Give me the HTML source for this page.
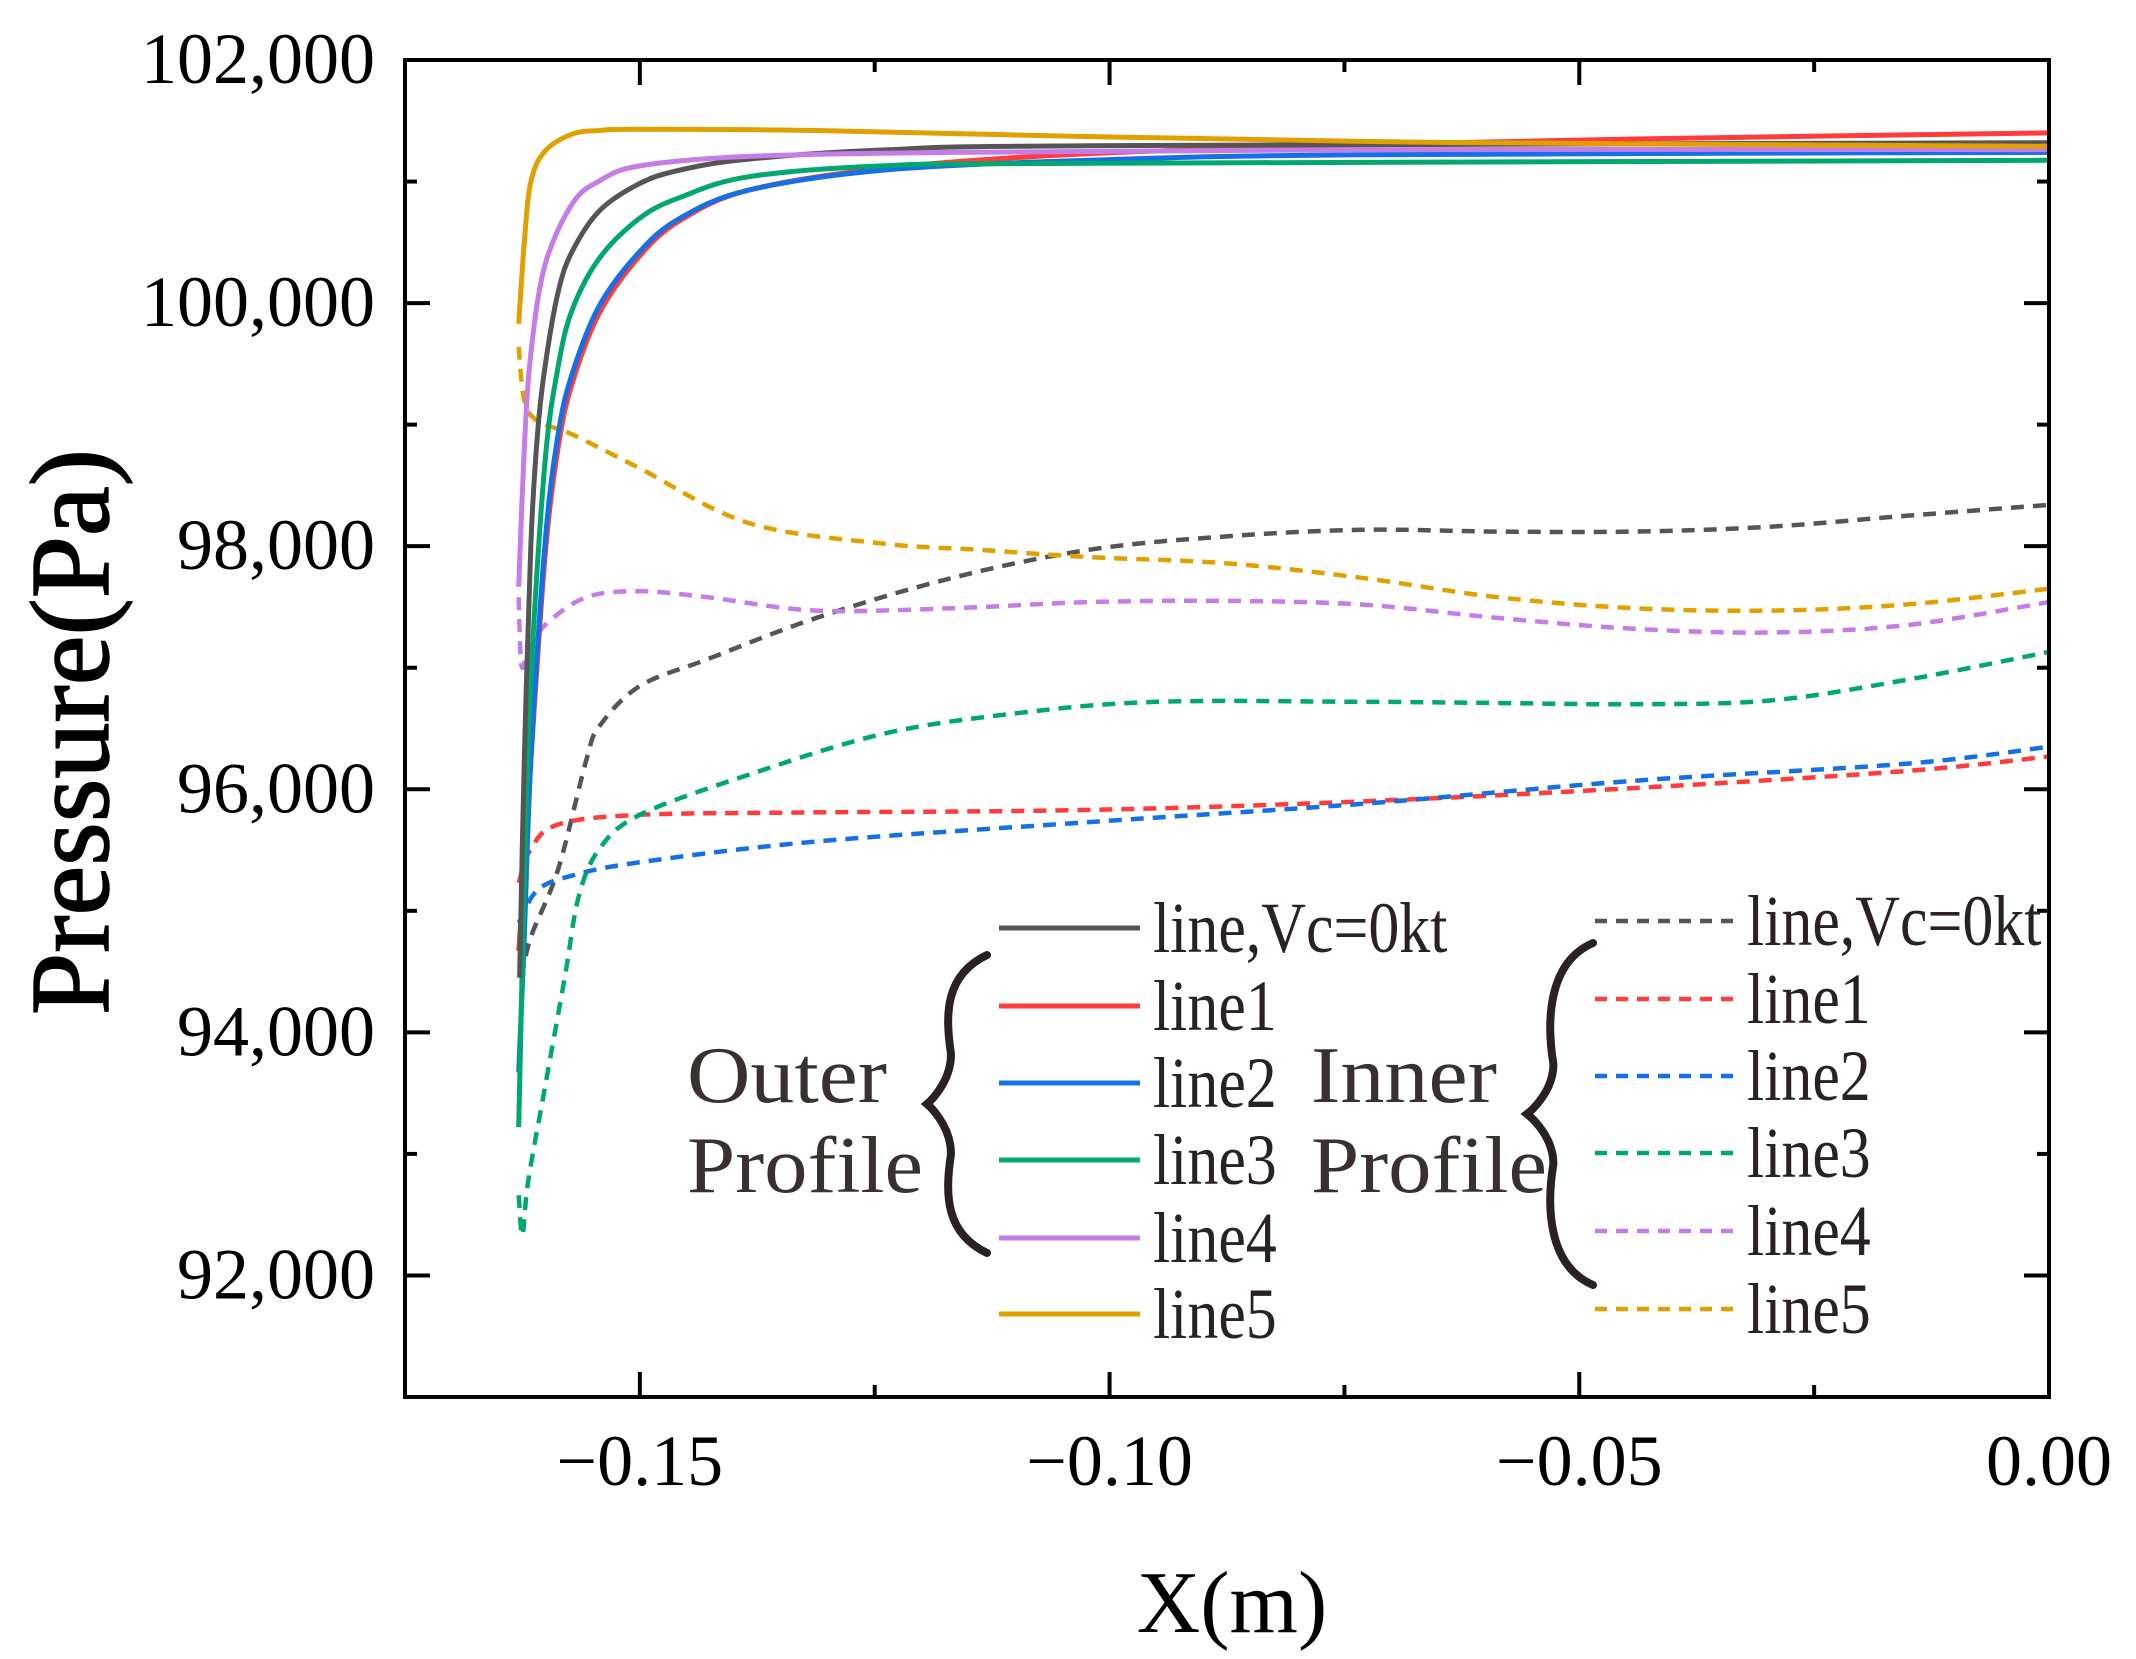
<!DOCTYPE html>
<html><head><meta charset="utf-8"><style>
html,body{margin:0;padding:0;background:#fff;}
svg{display:block;}
text{font-family:"Liberation Serif",serif;}
</style></head><body>
<svg id="chart" width="2136" height="1659" viewBox="0 0 2136 1659" xmlns="http://www.w3.org/2000/svg"></svg>
<script>
const xTicks=[-0.15,-0.10,-0.05,0.00];
const xTickLabels=["\u22120.15","\u22120.10","\u22120.05","0.00"];
const yTicks=[92000,94000,96000,98000,100000,102000];
const yTickLabels=["92,000","94,000","96,000","98,000","100,000","102,000"];
const seriesNames=["line,Vc=0kt","line1","line2","line3","line4","line5"];
const outer0=[[-0.1628,94450],[-0.1623,96240],[-0.1616,98020],[-0.1609,98920],[-0.1601,99475],[-0.1587,100090],[-0.1572,100425],[-0.1543,100760],[-0.15,100985],[-0.1457,101095],[-0.1384,101185],[-0.1239,101260],[-0.1022,101295],[0,101320]];
const outer1=[[-0.1629,94670],[-0.1623,95340],[-0.1616,96240],[-0.1601,97910],[-0.1587,98810],[-0.1572,99340],[-0.1543,99920],[-0.15,100390],[-0.1457,100680],[-0.1384,100930],[-0.1239,101110],[-0.1022,101230],[-0.0732,101300],[-0.0442,101350],[0,101400]];
const outer2=[[-0.1629,93670],[-0.1623,94785],[-0.1616,96240],[-0.1601,98020],[-0.1587,98920],[-0.1572,99420],[-0.1543,99980],[-0.15,100425],[-0.1457,100700],[-0.1384,100930],[-0.1239,101095],[-0.1022,101175],[-0.0732,101220],[0,101240]];
const outer3=[[-0.1629,93220],[-0.1623,95230],[-0.1616,96910],[-0.1601,98690],[-0.1587,99475],[-0.1572,99945],[-0.1543,100370],[-0.15,100700],[-0.1457,100870],[-0.1384,101040],[-0.1239,101130],[-0.1022,101150],[0,101175]];
const outer4=[[-0.1629,97666],[-0.1623,98805],[-0.1616,99587],[-0.1601,100313],[-0.1572,100816],[-0.1543,101006],[-0.15,101129],[-0.1384,101207],[-0.1167,101240],[-0.0732,101263],[0,101263]];
const outer5=[[-0.1629,99830],[-0.1623,100500],[-0.1616,101000],[-0.1601,101250],[-0.1572,101390],[-0.1543,101420],[-0.15,101430],[-0.1312,101420],[-0.1022,101370],[-0.0732,101330],[-0.0442,101310],[0,101290]];
const inner0=[[-0.1626,94450],[-0.1616,94785],[-0.1587,95340],[-0.1557,96240],[-0.1543,96520],[-0.15,96850],[-0.1428,97070],[-0.1312,97410],[-0.1167,97740],[-0.1022,97970],[-0.0877,98080],[-0.0732,98135],[-0.0587,98120],[-0.0442,98120],[-0.0297,98160],[-0.0152,98250],[0,98340]];
const inner1=[[-0.1629,95230],[-0.1616,95510],[-0.1587,95710],[-0.15,95790],[-0.1312,95810],[-0.1022,95830],[-0.0732,95900],[-0.0442,96010],[-0.0152,96150],[0,96270]];
const inner2=[[-0.1629,94900],[-0.1609,95170],[-0.1572,95290],[-0.15,95400],[-0.1312,95570],[-0.1022,95730],[-0.0732,95880],[-0.0442,96070],[-0.0152,96210],[0,96350]];
const inner3=[[-0.1629,92660],[-0.1625,92330],[-0.1619,92770],[-0.1601,93550],[-0.158,94450],[-0.1565,95120],[-0.1543,95510],[-0.15,95790],[-0.1384,96120],[-0.1239,96460],[-0.1094,96630],[-0.0949,96720],[-0.0732,96720],[-0.0587,96710],[-0.0442,96700],[-0.0297,96730],[-0.0152,96900],[0,97130]];
const inner4=[[-0.1629,97580],[-0.1626,97020],[-0.1619,97130],[-0.1601,97350],[-0.1557,97580],[-0.15,97630],[-0.1428,97580],[-0.1312,97470],[-0.1167,97490],[-0.1022,97540],[-0.0877,97550],[-0.0732,97520],[-0.0587,97410],[-0.0442,97320],[-0.0297,97290],[-0.0152,97350],[0,97540]];
const inner5=[[-0.1629,99640],[-0.1623,99200],[-0.1609,99030],[-0.1572,98920],[-0.15,98640],[-0.1384,98190],[-0.1239,98020],[-0.1138,97970],[-0.1022,97910],[-0.0877,97860],[-0.0732,97740],[-0.0587,97580],[-0.0442,97490],[-0.0297,97470],[-0.0152,97520],[0,97650]];

const colors=["#555555","#ff3b3b","#1570e6","#00a870","#c47ce6","#e0a000"];
const X0=405,X1=2049,Y0=60,Y1=1397;
const xMin=-0.175,xMax=0,yMin=91000,yMax=102000;
const sx=v=>X0+(v-xMin)/(xMax-xMin)*(X1-X0);
const sy=v=>Y1-(v-yMin)/(yMax-yMin)*(Y1-Y0);
const svg=document.getElementById('chart');
const NS="http://www.w3.org/2000/svg";
function mk(tag,attrs,parent){const e=document.createElementNS(NS,tag);for(const k in attrs)e.setAttribute(k,attrs[k]);(parent||svg).appendChild(e);return e;}
function pathD(pts){
  const p=pts.map(d=>[sx(d[0]),sy(d[1])]);
  let d="M"+p[0][0].toFixed(1)+","+p[0][1].toFixed(1);
  for(let i=0;i<p.length-1;i++){
    const p0=p[i-1]||p[i],p1=p[i],p2=p[i+1],p3=p[i+2]||p2;
    const c1=[p1[0]+(p2[0]-p0[0])/6,p1[1]+(p2[1]-p0[1])/6];
    const c2=[p2[0]-(p3[0]-p1[0])/6,p2[1]-(p3[1]-p1[1])/6];
    d+=" C"+c1[0].toFixed(1)+","+c1[1].toFixed(1)+" "+c2[0].toFixed(1)+","+c2[1].toFixed(1)+" "+p2[0].toFixed(1)+","+p2[1].toFixed(1);
  }
  return d;
}
const gSeries=mk('g',{});


const inner=[inner0,inner1,inner2,inner3,inner4,inner5];
const outer=[outer0,outer1,outer2,outer3,outer4,outer5];
inner.forEach((s,i)=>{
  const e=mk('path',{d:pathD(s),fill:'none',stroke:colors[i],'stroke-width':4.5,'stroke-dasharray':'13,9'},gSeries);
  
  
});
[1,2,3,0,4,5].forEach(i=>{
  const e=mk('path',{d:pathD(outer[i]),fill:'none',stroke:colors[i],'stroke-width':5},gSeries);
  
  
});
const frame=mk('rect',{x:X0,y:Y0,width:X1-X0,height:Y1-Y0,fill:'none',stroke:'#000','stroke-width':4});


const gt=mk('g',{stroke:'#000','stroke-width':4});


for(let v=-0.175;v<=0.0001;v+=0.025){
  const x=sx(v);const major=Math.abs(Math.round(v/0.05)*0.05-v)<1e-6;const L=major?25:12;
  mk('line',{x1:x,y1:Y1,x2:x,y2:Y1-L},gt);mk('line',{x1:x,y1:Y0,x2:x,y2:Y0+L},gt);
}
for(let v=91000;v<=102000;v+=1000){
  const y=sy(v);const major=v%2000===0;const L=major?25:12;
  mk('line',{x1:X0,y1:y,x2:X0+L,y2:y},gt);mk('line',{x1:X1,y1:y,x2:X1-L,y2:y},gt);
}
xTicks.forEach((v,i)=>{const t=mk('text',{x:sx(v),y:1485,'font-size':72,'text-anchor':'middle',fill:'#000'});t.textContent=xTickLabels[i];

});
yTicks.forEach((v,i)=>{const t=mk('text',{x:375,y:sy(v)+23,'font-size':72,'text-anchor':'end',fill:'#000'});t.textContent=yTickLabels[i];

});
const xt=mk('text',{x:1232,y:1632,'font-size':88,'text-anchor':'middle',fill:'#000'});xt.textContent="X(m)";


const yt=mk('text',{x:0,y:0,'font-size':112,'text-anchor':'middle',fill:'#000',stroke:'#000','stroke-width':1.5,transform:'translate(108,732) rotate(-90)'});yt.textContent="Pressure(Pa)";


const gl=mk('g',{});


function legendCol(lx0,lx1,tx,rows,dashed,prefix){
  rows.forEach((y,i)=>{
    const ln=mk('line',{x1:lx0,y1:y,x2:lx1,y2:y,stroke:colors[i],'stroke-width':dashed?4.5:5,'stroke-dasharray':dashed?'12,9':'none'},gl);
    
    
    const t=mk('text',{x:tx,y:y+24,'font-size':72,fill:'#2a2222',transform:`translate(${tx},0) scale(0.86,1) translate(${-tx},0)`},gl);
    t.textContent=seriesNames[i];
    
    
  });
}
legendCol(999,1140,1153,[928,1006,1083,1160,1238,1314],false,'outer');
legendCol(1595,1736,1747,[921,999,1076,1153,1231,1309],true,'inner');
function groupLabel(x,w1,w2,txt1,prefix){
  const a=mk('text',{x:x,y:1102,'font-size':80,fill:'#3a3030',textLength:w1,lengthAdjust:'spacingAndGlyphs'},gl);a.textContent=txt1;
  
  
  const b=mk('text',{x:x,y:1192,'font-size':80,fill:'#3a3030',textLength:w2,lengthAdjust:'spacingAndGlyphs'},gl);b.textContent="Profile";
  
  
}
groupLabel(687,200,236,"Outer",'outer');
groupLabel(1311,186,236,"Inner",'inner');
function brace(x,yTop,yBot,w,prefix){
  const ym=(yTop+yBot)/2;
  const d=`M${x+w},${yTop} C${x+w*0.3},${yTop+20} ${x+w*0.3},${ym-90} ${x+w*0.4},${ym-50} C${x+w*0.4},${ym-20} ${x},${ym} ${x},${ym} C${x},${ym} ${x+w*0.4},${ym+20} ${x+w*0.4},${ym+50} C${x+w*0.3},${ym+90} ${x+w*0.3},${yBot-20} ${x+w},${yBot}`;
  const p=mk('path',{d:d,fill:'none',stroke:'#2a2222','stroke-width':8,'stroke-linecap':'round'},gl);
  
  
}
brace(927,955,1253,60,'outer');
brace(1527,943,1285,66,'inner');
</script>
</body></html>
